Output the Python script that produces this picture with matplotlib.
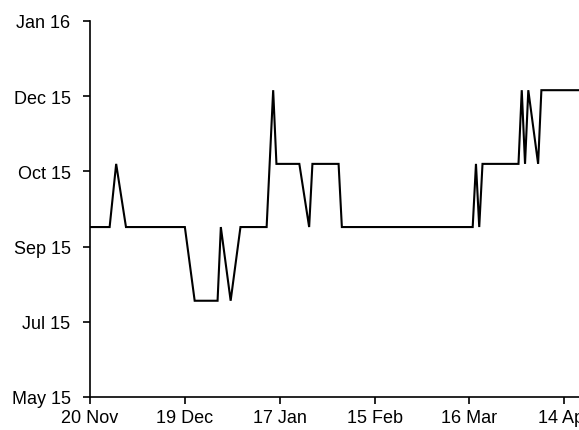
import numpy as np
import matplotlib
matplotlib.use("Agg")
import matplotlib.pyplot as plt
import matplotlib.dates as mdates

# Survey dates (x) and the expected date read for each (y); only turning points
obs_dates = ["2014-11-20", "2014-11-26", "2014-11-28", "2014-12-01", "2014-12-19",
             "2014-12-22", "2014-12-29", "2014-12-30", "2015-01-02", "2015-01-05",
             "2015-01-13", "2015-01-15", "2015-01-16", "2015-01-23", "2015-01-26",
             "2015-01-27", "2015-02-04", "2015-02-05", "2015-03-17", "2015-03-18",
             "2015-03-19", "2015-03-20", "2015-03-31", "2015-04-01", "2015-04-02",
             "2015-04-03", "2015-04-06", "2015-04-07", "2015-04-20"]
expected = ["2015-09-16", "2015-09-16", "2015-10-28", "2015-09-16", "2015-09-16",
            "2015-07-29", "2015-07-29", "2015-09-16", "2015-07-29", "2015-09-16",
            "2015-09-16", "2015-12-16", "2015-10-28", "2015-10-28", "2015-09-16",
            "2015-10-28", "2015-10-28", "2015-09-16", "2015-09-16", "2015-10-28",
            "2015-09-16", "2015-10-28", "2015-10-28", "2015-12-16", "2015-10-28",
            "2015-12-16", "2015-10-28", "2015-12-16", "2015-12-16"]

# axis ticks (Excel style: x every 29 days, y every 50 days)
x_ticks = ["2014-11-20", "2014-12-19", "2015-01-17", "2015-02-15", "2015-03-16", "2015-04-14"]
y_ticks = ["2015-05-26", "2015-07-15", "2015-09-03", "2015-10-23", "2015-12-12", "2016-01-31"]

plt.rcParams['font.family'] = ['Liberation Sans Narrow', 'Liberation Sans', 'DejaVu Sans']

x = np.array(obs_dates, dtype="datetime64[D]")
y = np.array(expected, dtype="datetime64[D]")
xt = np.array(x_ticks, dtype="datetime64[D]")
yt = np.array(y_ticks, dtype="datetime64[D]")

fig = plt.figure(figsize=(5.79, 4.31), dpi=100)
ax = fig.add_axes([90 / 579, 33 / 431, 489 / 579, 376 / 431])

ax.plot(x, y, color="black", linewidth=1.5, solid_joinstyle="miter")

ax.set_xlim(xt[0], np.datetime64("2015-04-18T12:00"))
ax.set_ylim(yt[0], yt[-1])
ax.set_xticks(xt)
ax.set_yticks(yt)
ax.xaxis.set_major_formatter(mdates.DateFormatter("%d %b"))
ax.yaxis.set_major_formatter(mdates.DateFormatter("%b %y"))

for side in ["top", "right"]:
    ax.spines[side].set_visible(False)
for side in ["left", "bottom"]:
    ax.spines[side].set_linewidth(1.2)
ax.tick_params(axis="both", direction="out", length=5, width=1.2, labelsize=13, colors="black")
ax.tick_params(axis="y", pad=9)
ax.tick_params(axis="x", pad=4)

fig.savefig("out.png", dpi=100)
